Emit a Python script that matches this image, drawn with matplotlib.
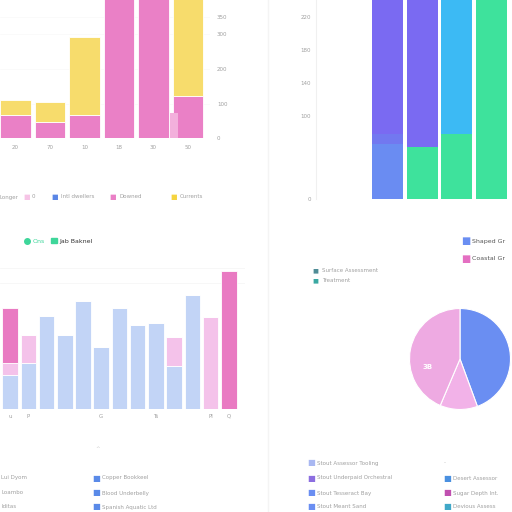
import matplotlib
matplotlib.use("Agg")
import matplotlib.pyplot as plt
from matplotlib.patches import Patch
from matplotlib.lines import Line2D
import numpy as np

# --- DATA ---
# top-left: stacked pink / yellow
tl_labels = ["20", "70", "10", "18", "30", "50"]
tl_pink = [67, 46, 67, 420, 420, 122]
tl_yellow = [43, 58, 226, 0, 0, 300]
tl_side = [0, 0, 0, 0, 72, 0]
tl_ticks = [0, 100, 200, 300, 350]

# top-right: stacked blue / purple / green / cyan
tr_blue = [66, 0, 0, 0]
tr_mid = [12, 0, 0, 0]
tr_green = [0, 63, 78, 250]
tr_purple = [172, 187, 0, 0]
tr_cyan = [0, 0, 172, 0]
tr_ticks = [0, 100, 140, 180, 220]

# bottom-left: 13 stacked bars
bl_blue = [34, 46, 93, 74, 108, 62, 101, 84, 86, 43, 114, 0, 0]
bl_light = [12, 28, 0, 0, 0, 0, 0, 0, 0, 29, 0, 92, 0]
bl_pink = [55, 0, 0, 0, 0, 0, 0, 0, 0, 0, 0, 0, 138]
bl_ticks = ["u", "P", "", "", "", "G", "", "", "Ts", "", "", "Pl", "Q"]

# bottom-right: pie
pie_labels = ["Shaped Sub Grd", "Lower", "Coastal Sub Grd"]
pie_values = [44.4, 12.0, 43.6]

PINK = "#ea80c6"
YELLOW = "#f7dc6c"
GRAY = "#a0a0a0"


def px(x0, y0, x1, y1):
    return [x0 / 512, 1 - y1 / 512, (x1 - x0) / 512, (y1 - y0) / 512]


def clean(ax):
    for s in ax.spines.values():
        s.set_visible(False)
    ax.tick_params(length=0, labelsize=4, labelcolor=GRAY)


def key(x, y, col, lab, size=6, tcol=GRAY, tsize=4, gap=10):
    # square marker plus label, positions in pixels from top-left
    fig.text(x / 512, 1 - y / 512, "■", color=col, fontsize=size, va="center")
    fig.text((x + gap) / 512, 1 - y / 512, lab, color=tcol, fontsize=tsize, va="center")


fig = plt.figure(figsize=(5.12, 5.12), dpi=100)
fig.patch.set_facecolor("white")

# faint separator
fig.add_artist(Line2D([268 / 512, 268 / 512], [0, 1], color="#f4f4f4", lw=1))

# ---- top-left ----
ax1 = fig.add_axes(px(0, 0, 210, 138))
x = np.arange(len(tl_pink))
ax1.bar(x, tl_pink, width=0.88, color=PINK, edgecolor="white", linewidth=0.6)
ax1.bar(x, tl_yellow, bottom=tl_pink, width=0.88, color=YELLOW,
        edgecolor="white", linewidth=0.6)
ax1.bar(x + 0.6, tl_side, width=0.22, color="#f3b0dc")
ax1.set_xlim(-0.45, 5.64)
ax1.set_ylim(0, 400)
ax1.yaxis.tick_right()
ax1.set_yticks(tl_ticks)
ax1.set_xticks(x)
ax1.set_xticklabels(tl_labels)
ax1.tick_params(axis="y", pad=5)
ax1.tick_params(axis="x", pad=5)
ax1.grid(axis="y", color="#f9f9f9", lw=0.5)
ax1.set_axisbelow(True)
clean(ax1)

fig.text(0, 1 - 197 / 512, "Longer", color=GRAY, fontsize=4, va="center")
key(23, 197, "#f6c4e6", "0", size=5, gap=9)
key(51, 197, "#5a86e6", "Intl dwellers", size=5, gap=10)
key(109, 197, PINK, "Downed", size=5, gap=10)
key(170, 197, "#f5d440", "Currents", size=5, gap=10)

# ---- top-right ----
ax2 = fig.add_axes(px(316, 0, 512, 199))
x2 = np.arange(len(tr_blue))
b = np.zeros(len(tr_blue))
for vals, col in [(tr_blue, "#6a8cf2"), (tr_mid, "#7278f0"), (tr_green, "#3ee29c"),
                  (tr_purple, "#7a6af2"), (tr_cyan, "#3cbaf4")]:
    ax2.bar(x2, vals, bottom=b, width=0.89, color=col, linewidth=0)
    b += np.array(vals)
ax2.set_xlim(-2.06, 3.59)
ax2.set_ylim(0, 240)
ax2.set_yticks(tr_ticks)
ax2.set_xticks([])
clean(ax2)
ax2.spines["left"].set_visible(True)
ax2.spines["left"].set_color("#f0f0f0")

# ---- bottom-left ----
ax3 = fig.add_axes(px(0, 255, 245, 409))
x3 = np.arange(len(bl_blue))
ax3.bar(x3, bl_blue, width=0.85, color="#c2d4f6", edgecolor="white", linewidth=0.6)
ax3.bar(x3, bl_light, bottom=bl_blue, width=0.85, color="#f4c2ea",
        edgecolor="white", linewidth=0.6)
ax3.bar(x3, bl_pink, bottom=np.add(bl_blue, bl_light), width=0.85, color="#e97ac2",
        edgecolor="white", linewidth=0.6)
ax3.set_xlim(-0.55, 12.88)
ax3.set_ylim(0, 154)
ax3.set_xticks(x3)
ax3.set_xticklabels(bl_ticks)
ax3.set_yticks([126, 141])
ax3.set_yticklabels([])
ax3.grid(axis="y", color="#f6f6f6", lw=0.6)
ax3.set_axisbelow(True)
clean(ax3)

fig.legend(handles=[Line2D([], [], marker="o", ls="", color="#3ed69a", markersize=4, label="Ons"),
                    Patch(color="#3ed69a", label="Jab Baknel")],
           loc="center left", bbox_to_anchor=(19 / 512, 1 - 241 / 512), ncol=2,
           fontsize=4.5, frameon=False, handlelength=0.9, handleheight=0.9,
           columnspacing=1.0, handletextpad=0.4, labelcolor=["#3ed69a", "#333333"])

# ---- bottom-right pie ----
ax4 = fig.add_axes(px(409, 308, 511, 410))
ax4.pie(pie_values, colors=["#6a8ef2", "#f2b2e8", "#eeaae2"], startangle=90,
        counterclock=False, wedgeprops=dict(edgecolor="white", linewidth=0.8))
ax4.set_xlim(-1.01, 1.01)
ax4.set_ylim(-1.01, 1.01)
ax4.set_aspect("equal")
fig.text(428 / 512, 1 - 367 / 512, "3B", color="white", fontsize=5,
         ha="center", va="center", weight="bold")

key(461, 241, "#6a8ef2", "Shaped Gr", size=7, tcol="#555555", tsize=4.5, gap=11)
key(461, 259, "#e46fc2", "Coastal Gr", size=7, tcol="#555555", tsize=4.5, gap=11)

key(312, 271, "#4f8c96", "Surface Assessment", size=4.5, gap=10)
key(312, 281, "#3aa8a2", "Treatment", size=4.5, gap=10)

# ---- bottom legend rows ----
for yy, lab in [(478, "Lui Dyom"), (493, "Loambo"), (507, "Iditas")]:
    fig.text(1 / 512, 1 - yy / 512, lab, color=GRAY, fontsize=4, va="center")

fig.text(95 / 512, 1 - 448 / 512, "^", color="#cccccc", fontsize=4, va="center")
for yy, lab in [(478, "Copper Bookkeel"), (493, "Blood Underbelly"), (507, "Spanish Aquatic Ltd")]:
    key(92, yy, "#5a8ae8", lab)

for yy, col, lab in [(463, "#a9b8f2", "Stout Assessor Tooling"),
                     (478, "#8c6ee0", "Stout Underpaid Orchestral"),
                     (493, "#6a8ef2", "Stout Tesseract Bay"),
                     (507, "#6a8ef2", "Stout Meant Sand")]:
    key(307, yy, col, lab)

fig.text(444 / 512, 1 - 463 / 512, "-", color="#bbbbbb", fontsize=4, va="center")
for yy, col, lab in [(478, "#4a90e0", "Desert Assessor"),
                     (493, "#c050b0", "Sugar Depth Int."),
                     (507, "#40a8c8", "Devious Assess")]:
    key(443, yy, col, lab)

fig.savefig("out.png", dpi=100)
